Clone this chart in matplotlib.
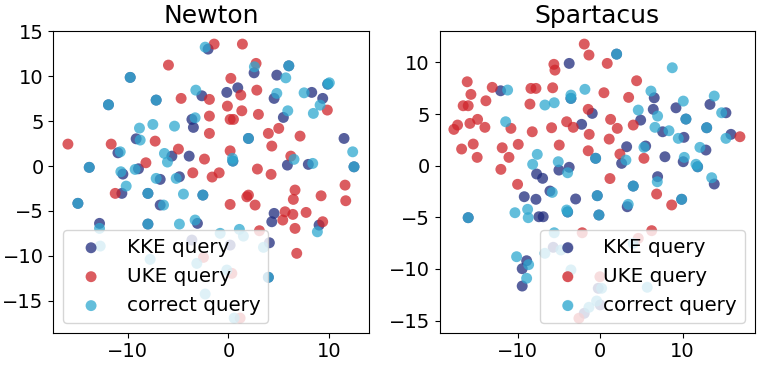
import matplotlib
matplotlib.use("Agg")
import matplotlib.pyplot as plt

titles = ["Newton", "Spartacus"]
labels = ["KKE query", "UKE query", "correct query"]

# ---------------- Newton ----------------
newton_kke_x = [-2.02, -9.76, -11.92, -7.18, -2.64, -3.63, -3.48, -9.17, -10.98, -5.62, -3.90, -13.83,
                -10.49, -8.94, -6.78, -4.87, 2.55, 4.81, 6.00, 0.93, -0.16, 4.54, 8.28, 9.87, 9.37, 5.46,
                1.99, 11.49, 12.48, 0.44, 5.86, 7.94, -10.59, -8.00, -2.54, -6.78, -14.96, -12.81, -8.00,
                -3.08, -3.63, 4.54, 4.31, 9.01, 4.07, 0.17, 3.97]
newton_kke_y = [13.03, 9.88, 6.83, 7.35, 7.83, 5.20, 4.31, 3.04, 1.48, 1.11, 1.11, -0.14,
                -0.89, -0.30, -1.48, -1.19, 10.39, 10.13, 11.17, 8.72, 8.21, 7.54, 8.21, 9.13, 7.54, 5.42,
                3.08, 3.08, -0.08, 0.56, 0.11, 0.19, -3.04, -3.04, -3.23, -4.34, -4.15, -6.38, -6.46,
                -6.38, -8.24, -5.27, -6.20, -6.57, -8.54, -8.80, -12.39]

newton_uke_x = [-5.96, -4.70, -1.89, -1.89, -1.89, -7.28, -15.95, -11.65, -4.97, -2.38, -8.20, -3.54,
                -1.62, -1.42, 1.39, 2.75, 0.24, 1.23, 2.82, 9.83, -0.10, 1.33, 0.17, 0.50, 2.98, 5.00,
                3.97, 7.12, 4.31, 0.17, 2.88, 6.20, -0.92, 4.24, -11.25, 0.17, 1.83, 1.99, 2.65, 6.62,
                6.45, 9.21, 11.59, 11.66, 5.63, 6.40, 5.40, 7.72, 6.62, 9.37, 6.79, -2.48, 3.08, 0.34,
                1.16]
newton_uke_y = [11.25, 7.54, 7.43, 5.57, 3.64, 2.78, 2.45, 2.45, 1.89, 0.78, 0.37, -0.75,
                -1.22, 13.59, 13.59, 11.44, 9.77, 7.91, 8.46, 6.24, 6.68, 6.16, 5.20, 5.20, 5.76, 4.20,
                3.64, 3.34, 2.23, 1.70, -0.33, 1.11, -0.75, -0.92, -3.04, -4.27, -3.42, -3.23, -4.34, -2.67,
                -3.71, -3.31, -2.12, -3.86, -5.09, -5.38, -6.01, -5.16, -6.94, -6.20, -9.72, -10.17, -7.20, -11.95,
                -16.93]

newton_cor_x = [-2.31, -3.24, -3.31, -7.51, -5.36, -8.84, -8.77, -10.75, -6.36, -6.06, -10.69, -9.27,
                -7.18, -5.19, 2.58, 5.70, 4.81, 7.52, 10.03, 9.11, 8.44, 5.90, 12.35, 0.40, 6.52, 8.38,
                -10.16, -4.47, -6.45, -12.81, -4.87, -3.31, 8.84, -12.74, -7.78, -3.14, -2.31, -0.82, 1.09,
                1.49, 3.48, -0.16, 0.57,
                -9.76, -11.92, -7.18, 6.00, 9.87, 1.99, 12.48, 0.44, -8.00, -2.54, -14.96, -8.00, 3.97,
                -13.83]
newton_cor_y = [13.25, 8.46, 5.38, 4.64, 4.45, 4.23, 2.90, 1.59, 1.41, 0.45, -0.63, -0.37,
                -1.37, -1.37, 11.06, 9.83, 8.10, 8.16, 9.28, 6.79, 5.87, 6.16, 1.59, 0.86, 0.75, 0.30,
                -2.23, -3.12, -4.34, -6.94, -6.46, -6.01, -7.32, -8.91, -10.39, -10.84, -14.25, -7.49, -7.05,
                -7.80, -9.05, -11.58, -16.93,
                9.88, 6.83, 7.35, 11.17, 9.13, 3.08, -0.08, 0.56, -3.04, -3.23, -4.15, -6.46, -12.39,
                -0.14]

# ---------------- Spartacus ----------------
spart_kke_x = [-3.77, -12.10, -3.56, -0.97, -2.26, -0.56, -5.02, -3.77, -7.73, -7.00, 1.99, 6.56,
               9.20, 13.33, 15.27, 6.44, 4.91, 10.41, 7.58, 12.93, 10.17, 15.88, 3.21, 5.52, 12.84, 2.60,
               7.86, 10.08, 11.83, 6.97, -9.23, -7.81, -6.11, -2.99, -0.36, -16.04, -3.96, -7.45, -6.93,
               -0.16, -8.94, -9.48, -9.48, -3.89, -5.71, -1.94, -0.24, 4.01, 3.28, 9.89, 13.85, 0.00]
spart_kke_y = [9.91, 7.26, 6.52, 5.07, 4.01, 0.72, -0.42, -0.15, -0.80, -1.22, 10.81, 6.58,
               5.61, 5.94, 5.13, 5.46, 4.42, 4.52, 3.29, 3.68, 2.75, 3.04, 1.84, 1.91, 1.52, 0.23,
               0.87, 0.39, -0.10, -1.06, -3.00, -3.25, -2.45, -3.22, -2.90, -5.03, -4.48, -4.94, -4.94,
               -4.77, -9.20, -9.97, -11.65, -7.90, -7.90, -14.29, -11.87, -1.97, -3.97, -3.25, -1.77, -13.48]

spart_uke_x = [-1.94, -1.37, -5.63, -5.50, -16.16, -13.12, -8.42, -7.81, -5.78, -15.71, -16.65, -16.04,
               -13.89, -8.54, -1.46, 0.45, -17.33, -17.78, -15.83, -14.90, -14.01, -10.85, -8.26, -5.91,
               -4.08, -3.28, -1.34, -16.84, -15.43, -14.95, -11.91, -11.09, -9.96, -4.98, -1.46, -12.07,
               0.85, 4.42, 3.45, 4.01, 1.26, 2.07, 16.97, 1.09, 2.39, 5.31, 1.18, -10.04, 6.85, 8.68,
               6.25, -3.89, -2.19, -0.04, 4.62, -2.59]
spart_uke_y = [11.78, 10.72, 9.82, 9.26, 8.13, 7.59, 7.49, 7.49, 7.55, 6.91, 5.81, 5.81,
               6.29, 5.97, 5.46, 7.07, 3.94, 3.52, 4.10, 4.49, 3.72, 3.62, 3.29, 3.68,
               4.26, 3.72, 3.04, 1.62, 2.10, 0.81, 1.74, 0.81, 2.07, 2.00, 1.45, -0.35,
               9.91, 8.23, 6.62, 3.94, 4.49, 3.62, 2.81, 2.58, 1.13, 0.72, -1.24, -1.80, -2.74, -3.80,
               -6.29, -10.75, -6.49, -10.75, -7.03, -14.77]

spart_cor_x = [-11.25, -3.56, -1.86, -6.72, -5.59, -11.49, -7.65, -8.21, -5.10, -3.96, 8.75, 6.16,
               10.09, 13.85, 14.75, 4.62, 6.97, 6.65, 8.35, 9.48, 15.27, 5.31, 12.11, 3.12, 10.21, 11.63,
               13.54, 6.93, 3.40, -5.83, -10.36, -8.82, -8.75, -4.08, -10.16, -8.70, -8.94, -3.89, -5.59,
               -6.72, -4.78, -3.56, -1.37, -0.44, 4.01, 0.17, 5.71,
               -3.56, -0.56, 1.99, 10.41, 12.93, 11.83, -0.36, -16.04, -3.96, -0.16, 4.01, 9.89]
spart_cor_y = [7.33, 6.84, 7.40, 5.88, 6.10, 4.26, 1.10, 0.14, 0.39, -0.68, 9.49, 7.23,
               6.26, 6.75, 5.13, 5.39, 4.81, 3.72, 3.39, 2.65, 2.65, 1.78, 1.78, 0.55, 0.81, 0.14,
               -1.16, -1.55, -3.74, -2.58, -4.55, -4.22, -5.03, -4.29, -8.81, -9.58, -10.90, -13.51, -6.49,
               -8.48, -8.16, -10.09, -13.71, -13.10, -7.51, -11.87, -11.77,
               6.52, 0.72, 10.81, 4.52, 3.68, -0.10, -2.90, -5.03, -4.48, -4.77, -1.97, -3.25]

colors = ["#1f2b7d", "#cf252b", "#2fa8d0"]
ALPHA = 0.75
S = 62

fig = plt.figure(figsize=(7.63, 3.68), dpi=100)
ax1 = fig.add_axes([0.0699, 0.0959, 0.4141, 0.8199])
ax2 = fig.add_axes([0.5763, 0.0959, 0.4132, 0.8199])

panels = [
    (ax1, [(newton_kke_x, newton_kke_y), (newton_uke_x, newton_uke_y), (newton_cor_x, newton_cor_y)],
     (-17.4, 14.0), (-18.56, 15.05), "lower left"),
    (ax2, [(spart_kke_x, spart_kke_y), (spart_uke_x, spart_uke_y), (spart_cor_x, spart_cor_y)],
     (-19.5, 18.8), (-16.17, 13.05), "lower right"),
]

for (ax, series, xl, yl, loc), title in zip(panels, titles):
    for (xs, ys), c, lab in zip(series, colors, labels):
        ax.scatter(xs, ys, s=S, color=c, alpha=ALPHA, edgecolors="none", label=lab)
    ax.set_xlim(*xl)
    ax.set_ylim(*yl)
    ax.set_title(title, fontsize=18)
    ax.tick_params(labelsize=14)
    ax.legend(loc=loc, fontsize=14.3)

fig.savefig("out.png", dpi=100)
